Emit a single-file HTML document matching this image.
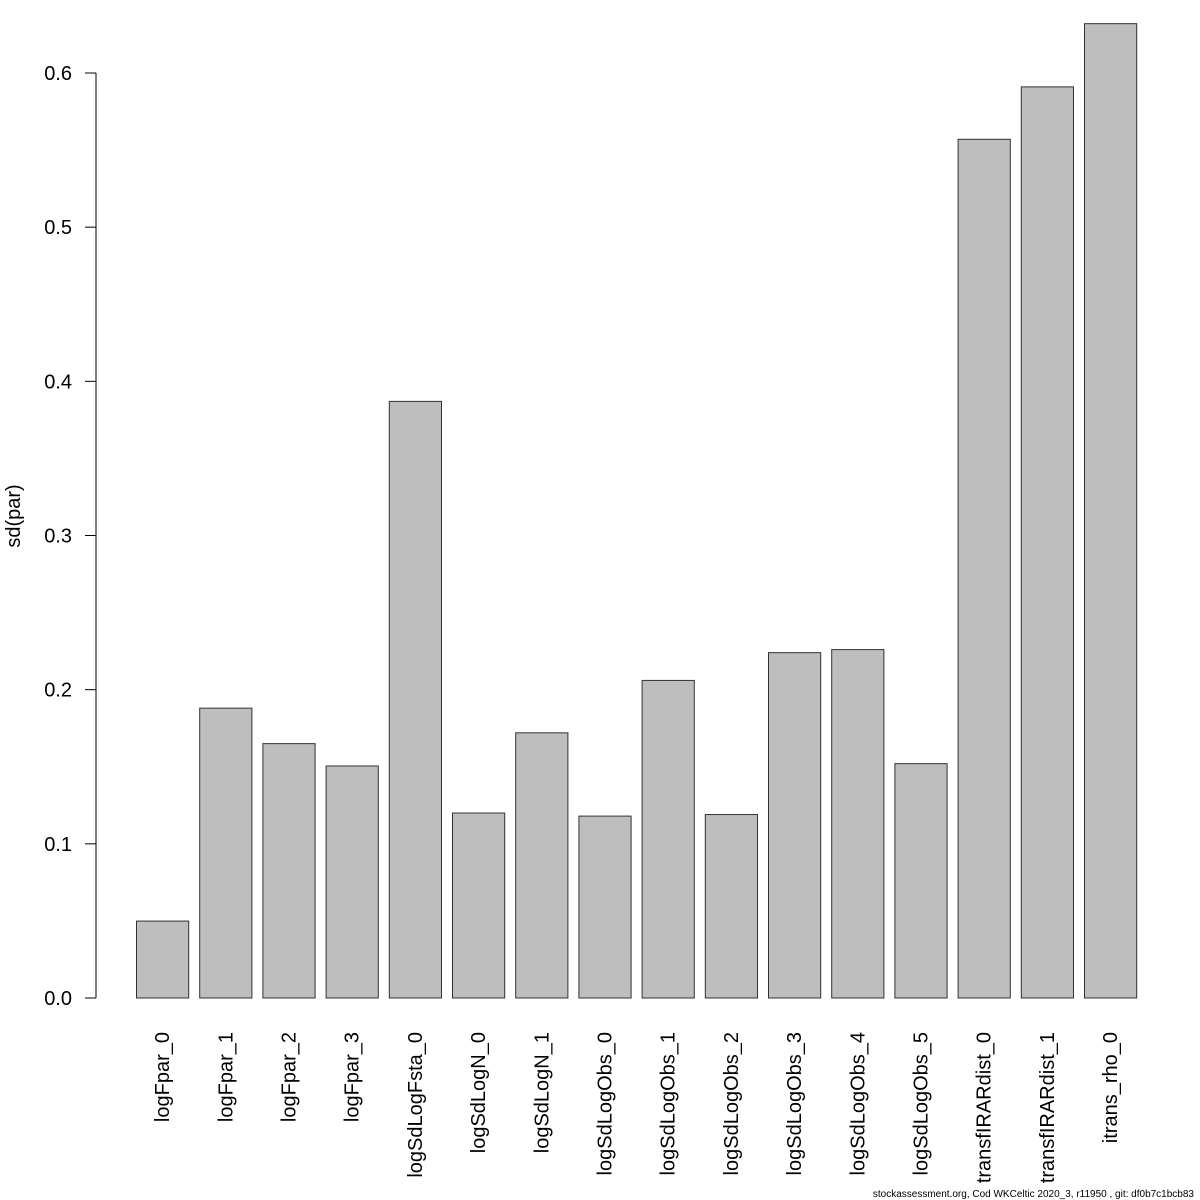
<!DOCTYPE html>
<html><head><meta charset="utf-8"><style>body{margin:0;background:#fff}svg{display:block}text{font-family:"Liberation Sans","DejaVu Sans",sans-serif}</style></head>
<body>
<svg id="chart" width="1200" height="1200" xmlns="http://www.w3.org/2000/svg">
<g id="plot"></g>
<text transform="translate(20,516) rotate(-90)" text-anchor="middle" font-size="20">sd(par)</text>
<text x="1194" y="1197" text-anchor="end" font-size="10">stockassessment.org, Cod WKCeltic  2020_3, r11950 , git: df0b7c1bcb83</text>
</svg>
<script>
const categories=["logFpar_0","logFpar_1","logFpar_2","logFpar_3","logSdLogFsta_0","logSdLogN_0","logSdLogN_1","logSdLogObs_0","logSdLogObs_1","logSdLogObs_2","logSdLogObs_3","logSdLogObs_4","logSdLogObs_5","transfIRARdist_0","transfIRARdist_1","itrans_rho_0"];
const values=[0.0499,0.188,0.165,0.1505,0.387,0.120,0.172,0.118,0.206,0.119,0.224,0.226,0.152,0.557,0.591,0.632];
const yTicks=[0,0.1,0.2,0.3,0.4,0.5,0.6];
const NS="http://www.w3.org/2000/svg";
const g=document.getElementById('plot');
const y=v=>998-v*1541.67;
const x=i=>136+i*63.2;
const bw=52.2;
function mk(t,a){const e=document.createElementNS(NS,t);for(const k in a)e.setAttribute(k,a[k]);g.appendChild(e);return e;}
const ax=mk('line',{x1:96,x2:96,y1:y(0),y2:y(0.6),stroke:'#000'});


yTicks.forEach(t=>{
  const l=mk('line',{x1:85,x2:96,y1:y(t),y2:y(t),stroke:'#000'});
  
  
  const tx=mk('text',{x:72,y:y(t)+7,'text-anchor':'end','font-size':20});
  tx.textContent=t.toFixed(1);
  
  
});
values.forEach((v,i)=>{
  const r=mk('rect',{x:x(i)+0.5,y:y(v),width:bw,height:y(0)-y(v),fill:'#bebebe',stroke:'#333','stroke-width':1});
  
  
  const cx=x(i)+bw/2+7;
  const tx=mk('text',{transform:`translate(${cx},1032) rotate(-90)`,'text-anchor':'end','font-size':20});
  tx.textContent=categories[i];
  
  
});
</script>
</body></html>
